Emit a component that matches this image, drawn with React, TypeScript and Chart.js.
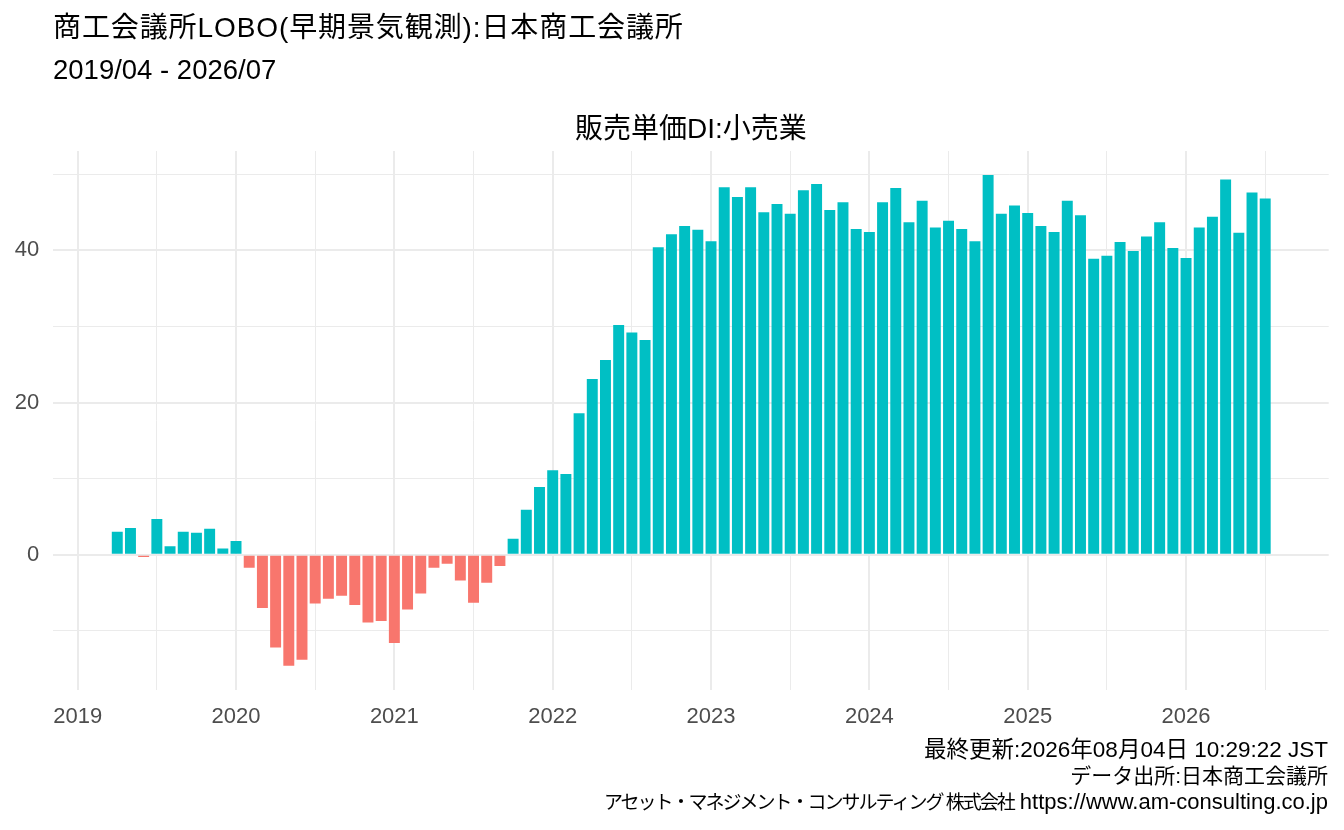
import { useEffect, useRef } from "react";
import { Chart, registerables } from "chart.js";

Chart.register(...registerables);

// Monthly survey dates (first of month)
const months = [
  "2019-04", "2019-05", "2019-06", "2019-07", "2019-08", "2019-09", "2019-10", "2019-11", "2019-12",
  "2020-01", "2020-02", "2020-03", "2020-04", "2020-05", "2020-06", "2020-07", "2020-08", "2020-09", "2020-10", "2020-11", "2020-12",
  "2021-01", "2021-02", "2021-03", "2021-04", "2021-05", "2021-06", "2021-07", "2021-08", "2021-09", "2021-10", "2021-11", "2021-12",
  "2022-01", "2022-02", "2022-03", "2022-04", "2022-05", "2022-06", "2022-07", "2022-08", "2022-09", "2022-10", "2022-11", "2022-12",
  "2023-01", "2023-02", "2023-03", "2023-04", "2023-05", "2023-06", "2023-07", "2023-08", "2023-09", "2023-10", "2023-11", "2023-12",
  "2024-01", "2024-02", "2024-03", "2024-04", "2024-05", "2024-06", "2024-07", "2024-08", "2024-09", "2024-10", "2024-11", "2024-12",
  "2025-01", "2025-02", "2025-03", "2025-04", "2025-05", "2025-06", "2025-07", "2025-08", "2025-09", "2025-10", "2025-11", "2025-12",
  "2026-01", "2026-02", "2026-03", "2026-04", "2026-05", "2026-06", "2026-07",
];

// 販売単価DI:小売業
const salesPriceDI = [
  3.0, 3.5, -0.3, 4.7, 1.1, 3.0, 2.9, 3.4, 0.8,
  1.8, -1.7, -7.0, -12.2, -14.6, -13.8, -6.4, -5.8, -5.4, -6.6, -8.9, -8.7,
  -11.6, -7.2, -5.1, -1.7, -1.2, -3.4, -6.3, -3.7, -1.5, 2.1, 5.9, 8.9,
  11.1, 10.6, 18.6, 23.1, 25.6, 30.2, 29.2, 28.2, 40.4, 42.1, 43.2, 42.7,
  41.2, 48.3, 47.0, 48.3, 45.0, 46.1, 44.8, 47.9, 48.7, 45.3, 46.3, 42.8,
  42.4, 46.3, 48.2, 43.7, 46.5, 43.0, 43.9, 42.8, 41.2, 49.9, 44.8, 45.9,
  44.9, 43.2, 42.4, 46.5, 44.6, 38.9, 39.3, 41.1, 39.9, 41.8, 43.7, 40.3,
  39.0, 43.0, 44.4, 49.3, 42.3, 47.6, 46.8,
];

const yearTicks = [2019, 2020, 2021, 2022, 2023, 2024, 2025, 2026];
const yTickLabels = [0, 20, 40];

const POSITIVE = "#00BFC4";
const NEGATIVE = "#F8766D";
const GRID = "#EBEBEB";
const FONT = "'Liberation Sans', Arial, 'Noto Sans CJK JP', sans-serif";

const monthToX = (m: string) => {
  const [y, mo] = m.split("-").map(Number);
  return y + (mo - 1) / 12;
};

const isWhole = (v: number) => Math.abs(v - Math.round(v)) < 1e-6;

function SalesPriceChart() {
  const chartRef = useRef<HTMLCanvasElement>(null);
  const chartInstance = useRef<Chart | null>(null);

  useEffect(() => {
    if (!chartRef.current) return;
    if (chartInstance.current) chartInstance.current.destroy();
    const ctx = chartRef.current.getContext("2d");
    if (!ctx) return;

    chartInstance.current = new Chart(ctx, {
      type: "bar",
      data: {
        datasets: [
          {
            label: "販売単価DI",
            data: months.map((m, i) => ({ x: monthToX(m), y: salesPriceDI[i] })),
            backgroundColor: salesPriceDI.map((v) => (v < 0 ? NEGATIVE : POSITIVE)),
            borderWidth: 0,
            barPercentage: 0.83,
            categoryPercentage: 1.0,
          },
        ],
      },
      options: {
        responsive: false,
        animation: false,
        layout: { padding: { top: 151, right: 15.3, bottom: 90, left: 0 } },
        scales: {
          x: {
            type: "linear",
            min: 2018.846,
            max: 2026.901,
            offset: false,
            border: { display: false },
            grid: {
              offset: false,
              drawTicks: false,
              color: GRID,
              lineWidth: (c: any) => (isWhole(c.tick.value) ? 2 : 1),
            },
            ticks: {
              stepSize: 0.5,
              includeBounds: false,
              autoSkip: false,
              maxRotation: 0,
              padding: 14,
              color: "#4D4D4D",
              font: { family: FONT, size: 22 },
              callback: (v: any) =>
                isWhole(v) && yearTicks.includes(Math.round(v)) ? String(Math.round(v)) : "",
            },
            afterFit: (s: any) => {
              s.height = 50;
            },
          },
          y: {
            min: -17.78,
            max: 53.05,
            border: { display: false },
            grid: {
              drawTicks: false,
              color: GRID,
              lineWidth: (c: any) => (Math.round(c.tick.value) % 20 === 0 ? 2 : 1),
            },
            ticks: {
              stepSize: 10,
              includeBounds: false,
              padding: 14,
              color: "#4D4D4D",
              font: { family: FONT, size: 22 },
              callback: (v: any) => (yTickLabels.includes(Math.round(v)) ? String(Math.round(v)) : ""),
            },
            afterFit: (s: any) => {
              s.width = 53.3;
            },
          },
        },
        plugins: {
          legend: { display: false },
          tooltip: { enabled: false },
        },
      },
    });

    return () => {
      if (chartInstance.current) {
        chartInstance.current.destroy();
        chartInstance.current = null;
      }
    };
  }, []);

  return (
    <canvas
      ref={chartRef}
      width={1344}
      height={830}
      style={{ position: "absolute", left: 0, top: 0, width: 1344, height: 830 }}
    />
  );
}

export default function App() {
  const text = { position: "absolute" as const, fontFamily: FONT, color: "#000", whiteSpace: "pre" as const };
  const capLine = { ...text, right: 16, lineHeight: "26px", textAlign: "right" as const };
  return (
    <div style={{ position: "absolute", left: 0, top: 0, width: 1344, height: 830, background: "#fff", overflow: "hidden" }}>
      <SalesPriceChart />
      <div style={{ ...text, left: 53, top: 14, fontSize: 28, lineHeight: "28px", letterSpacing: 0.9 }}>
        商工会議所LOBO(早期景気観測):日本商工会議所
      </div>
      <div style={{ ...text, left: 53, top: 56, fontSize: 27.5, lineHeight: "28px" }}>2019/04 - 2026/07</div>
      <div
        style={{ ...text, left: 53.3, width: 1275.4, top: 115, fontSize: 28, lineHeight: "28px", textAlign: "center" }}
      >
        販売単価DI:小売業
      </div>
      <div style={{ ...capLine, top: 737, fontSize: 22.5 }}>最終更新:2026年08月04日 10:29:22 JST</div>
      <div style={{ ...capLine, top: 763, fontSize: 21 }}>データ出所:日本商工会議所</div>
      <div style={{ ...capLine, top: 789, fontSize: 22 }}>
        <span style={{ fontSize: 19, letterSpacing: -2 }}>アセット・マネジメント・コンサルティング 株式会社</span>
        {" https://www.am-consulting.co.jp"}
      </div>
    </div>
  );
}
